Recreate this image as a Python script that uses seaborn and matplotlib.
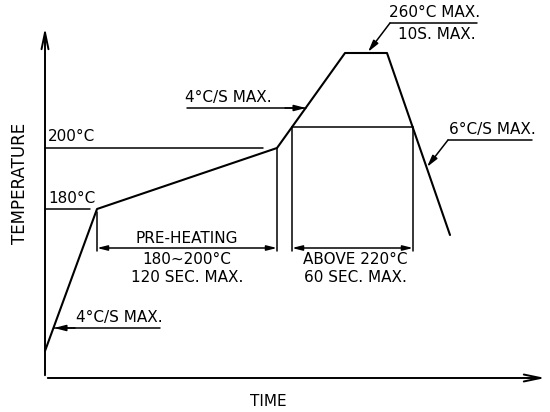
import numpy as np
import pandas as pd
import matplotlib
matplotlib.use("Agg")
import matplotlib.pyplot as plt
import seaborn as sns

# Reflow soldering profile (schematic units: time along x, temperature level up y)
profile_time = [0, 52, 232, 300, 342, 405]
profile_temp = [27, 169, 230, 325, 325, 143]

# reference levels
level_180 = 169
level_200 = 230
level_220 = 251
preheat_start, preheat_end = 52, 232
above_start, above_end = 247, 368
dim_y = 130

sns.set_style("white")
plt.rcParams['font.family'] = ['DejaVu Sans']
plt.rcParams['text.color'] = 'black'

fig = plt.figure(figsize=(5.5, 4.12), dpi=100)
ax = fig.add_axes([0, 0, 1, 1])
ax.set_xlim(-45, 505)
ax.set_ylim(-34, 378)
ax.axis("off")

df = pd.DataFrame({"time": profile_time, "temp": profile_temp})
sns.lineplot(data=df, x="time", y="temp", color="black", lw=1.5, sort=False, ax=ax)

# axes with open arrow heads
ax.annotate("", xy=(0, 353), xytext=(0, 0),
            arrowprops=dict(arrowstyle="->,head_length=1.2,head_width=0.25", lw=1.4, color="black"))
ax.annotate("", xy=(503, 0), xytext=(0, 0),
            arrowprops=dict(arrowstyle="->,head_length=1.2,head_width=0.25", lw=1.4, color="black"))

fs = 11
# 200 / 180 levels
ax.plot([0, 218], [level_200, level_200], color="black", lw=1.1)
ax.plot([0, 45], [level_180, level_180], color="black", lw=1.1)
ax.text(3, level_200 + 4, "200°C", fontsize=fs, va="bottom")
ax.text(3, level_180 + 3, "180°C", fontsize=fs, va="bottom")

# 220 level box
ax.plot([above_start, above_end], [level_220, level_220], color="black", lw=1.1)
for xv, ytop in [(preheat_start, 166), (preheat_end, level_200), (above_start, level_220), (above_end, level_220)]:
    ax.plot([xv, xv], [ytop, dim_y - 3], color="black", lw=1.1)

dim = dict(arrowstyle="<|-|>,head_length=0.6,head_width=0.15", lw=1.1, color="black", shrinkA=0, shrinkB=0)
ax.annotate("", xy=(preheat_start, dim_y), xytext=(preheat_end, dim_y), arrowprops=dim)
ax.annotate("", xy=(above_start, dim_y), xytext=(above_end, dim_y), arrowprops=dim)

ax.text(142, dim_y + 2, "PRE-HEATING", fontsize=fs, ha="center", va="bottom")
ax.text(142, 119, "180~200°C", fontsize=fs, ha="center", va="center")
ax.text(142, 100, "120 SEC. MAX.", fontsize=fs, ha="center", va="center")
ax.text(310, 119, "ABOVE 220°C", fontsize=fs, ha="center", va="center")
ax.text(310, 100, "60 SEC. MAX.", fontsize=fs, ha="center", va="center")

lead = dict(arrowstyle="-|>,head_length=0.7,head_width=0.18", lw=1.1, color="black", shrinkA=0, shrinkB=0)
# lower 4C/S
ax.plot([9, 115], [50, 50], color="black", lw=1.1)
ax.annotate("", xy=(9, 50), xytext=(30, 50), arrowprops=lead)
ax.text(74, 53, "4°C/S MAX.", fontsize=fs, ha="center", va="bottom")
# upper 4C/S
ax.plot([142, 261], [270, 270], color="black", lw=1.1)
ax.annotate("", xy=(261, 270), xytext=(240, 270), arrowprops=lead)
ax.text(183, 273, "4°C/S MAX.", fontsize=fs, ha="center", va="bottom")
# peak
ax.plot([345, 432], [355, 355], color="black", lw=1.1)
ax.annotate("", xy=(323, 326), xytext=(345, 355), arrowprops=lead)
ax.text(390, 358, "260°C MAX.", fontsize=fs, ha="center", va="bottom")
ax.text(392, 344, "10S. MAX.", fontsize=fs, ha="center", va="center")
# cooling
ax.plot([403, 487], [238, 238], color="black", lw=1.1)
ax.annotate("", xy=(382, 211), xytext=(403, 238), arrowprops=lead)
ax.text(447, 241, "6°C/S MAX.", fontsize=fs, ha="center", va="bottom")

ax.text(-25, 195, "TEMPERATURE", fontsize=12, rotation=90, ha="center", va="center")
ax.text(223, -24, "TIME", fontsize=fs, ha="center", va="center")

fig.savefig("out.png", dpi=100)
